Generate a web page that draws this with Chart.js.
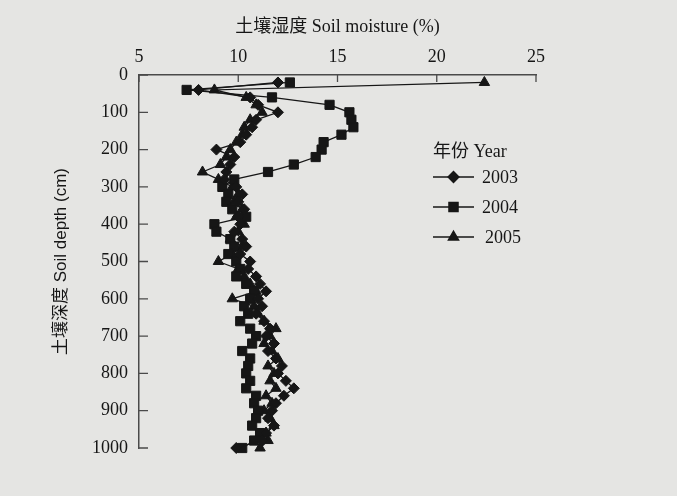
<!DOCTYPE html>
<html>
<head>
<meta charset="utf-8">
<script src="https://cdn.jsdelivr.net/npm/chart.js@4.4.1/dist/chart.umd.min.js"></script>
<style>
  body { margin: 0; background: #e5e5e3; }
  #wrap { width: 677px; height: 496px; }
</style>
</head>
<body>
<div id="wrap"><canvas id="soil-chart" width="677" height="496"></canvas></div>
<script>
// profundidade (cm) de cada medida
const depths = [20, 40, 60, 80, 100, 120, 140, 160, 180, 200,
  220, 240, 260, 280, 300, 320, 340, 360, 380, 400,
  420, 440, 460, 480, 500, 520, 540, 560, 580, 600,
  620, 640, 660, 680, 700, 720, 740, 760, 780, 800,
  820, 840, 860, 880, 900, 920, 940, 960, 980, 1000];

// umidade do solo (%) por ano
const moisture2003 = [12.0, 8.0, 10.6, 11.0, 12.0, 10.9, 10.7, 10.4, 10.1, 8.9,
  9.8, 9.6, 9.4, 9.3, 9.9, 10.2, 10.0, 10.3, 10.0, 10.1,
  9.8, 10.2, 10.4, 10.1, 10.6, 10.5, 10.9, 11.1, 11.4, 11.0,
  11.2, 10.9, 11.3, 11.6, 11.4, 11.8, 11.5, 11.9, 12.2, 12.0,
  12.4, 12.8, 12.3, 11.9, 11.7, 11.5, 11.8, 11.4, 11.2, 9.9];
const moisture2004 = [12.6, 7.4, 11.7, 14.6, 15.6, 15.7, 15.8, 15.2, 14.3, 14.2,
  13.9, 12.8, 11.5, 9.8, 9.2, 9.5, 9.4, 9.7, 10.4, 8.8,
  8.9, 9.6, 9.8, 9.5, 9.9, 10.1, 9.9, 10.4, 10.8, 10.6,
  10.3, 10.5, 10.1, 10.6, 10.9, 10.7, 10.2, 10.6, 10.5, 10.4,
  10.6, 10.4, 10.9, 10.8, 11.0, 10.9, 10.7, 11.1, 10.8, 10.2];
const moisture2005 = [22.4, 8.8, 10.4, 10.9, 11.2, 10.6, 10.3, 10.2, 9.9, 9.6,
  9.4, 9.1, 8.2, 9.0, 9.7, 10.0, 9.8, 10.2, 9.9, 10.3,
  10.0, 9.6, 10.2, 9.7, 9.0, 10.0, 10.3, 10.6, 10.9, 9.7,
  10.8, 11.0, 11.3, 11.9, 11.6, 11.3, 11.7, 12.0, 11.5, 11.8,
  11.6, 11.9, 11.4, 11.7, 11.3, 11.6, 11.8, 11.4, 11.5, 11.1];

const years = ["2003", "2004", "2005"];
const xTicks = [5, 10, 15, 20, 25];
const yTicks = [0, 100, 200, 300, 400, 500, 600, 700, 800, 900, 1000];

const ink = "#161616";
const axisColor = "#4a4a4a";
const serif = "'Liberation Serif', 'Noto Sans CJK SC', serif";
const sans = "'Liberation Sans', 'Noto Sans CJK SC', sans-serif";

function profile(values) {
  return depths.map((d, i) => ({ x: values[i], y: d }));
}

// fundo cinza do papel escaneado
const paper = {
  id: "paper",
  beforeDraw(chart) {
    const ctx = chart.ctx;
    ctx.save();
    ctx.fillStyle = "#e5e5e3";
    ctx.fillRect(0, 0, chart.width, chart.height);
    ctx.restore();
  }
};

// marcas dos eixos para dentro
const innerTicks = {
  id: "innerTicks",
  afterDraw(chart) {
    const { ctx, chartArea, scales } = chart;
    ctx.save();
    ctx.strokeStyle = axisColor;
    ctx.lineWidth = 1.3;
    ctx.beginPath();
    xTicks.forEach(v => {
      const px = scales.x.getPixelForValue(v);
      ctx.moveTo(px, chartArea.top);
      ctx.lineTo(px, chartArea.top + 7);
    });
    yTicks.forEach(v => {
      const py = scales.y.getPixelForValue(v);
      ctx.moveTo(chartArea.left, py);
      ctx.lineTo(chartArea.left + 9, py);
    });
    ctx.stroke();
    ctx.restore();
  }
};

// legenda dentro da area do grafico
const yearLegend = {
  id: "yearLegend",
  afterDraw(chart) {
    const ctx = chart.ctx;
    ctx.save();
    ctx.fillStyle = ink;
    ctx.textBaseline = "middle";
    ctx.textAlign = "left";
    ctx.font = "18px " + serif;
    ctx.fillText("年份 Year", 433, 152);
    chart.data.datasets.forEach((ds, i) => {
      const y = 177 + i * 30;
      ctx.strokeStyle = ink;
      ctx.lineWidth = 1.3;
      ctx.beginPath();
      ctx.moveTo(433, y);
      ctx.lineTo(474, y);
      ctx.stroke();
      ctx.fillStyle = ink;
      Chart.helpers.drawPoint(ctx, {
        pointStyle: ds.pointStyle, radius: ds.pointRadius, rotation: 0, borderWidth: 1
      }, 453.5, y);
      ctx.fillText(ds.label, 482 + (i === 2 ? 3 : 0), y + 1);
    });
    ctx.restore();
  }
};

const styles = [
  { pointStyle: "rectRot", pointRadius: 5.5 },
  { pointStyle: "rect", pointRadius: 6.5 },
  { pointStyle: "triangle", pointRadius: 6 }
];
const series = [moisture2003, moisture2004, moisture2005];

new Chart(document.getElementById("soil-chart"), {
  type: "line",
  data: {
    datasets: series.map((values, i) => ({
      label: years[i],
      data: profile(values),
      borderColor: ink,
      backgroundColor: ink,
      pointBackgroundColor: ink,
      pointBorderColor: ink,
      pointBorderWidth: 1,
      borderWidth: 1.3,
      tension: 0,
      fill: false,
      clip: false,
      pointStyle: styles[i].pointStyle,
      pointRadius: styles[i].pointRadius
    }))
  },
  options: {
    responsive: false,
    animation: false,
    layout: { padding: { top: 0, left: 0, right: 141, bottom: 48 } },
    plugins: {
      legend: { display: false },
      tooltip: { enabled: false }
    },
    scales: {
      x: {
        type: "linear",
        position: "top",
        min: 5,
        max: 25,
        afterBuildTicks: scale => { scale.ticks = xTicks.map(v => ({ value: v })); },
        afterFit: scale => { scale.height = 75; },
        grid: { display: false, drawTicks: false },
        border: { display: true, color: axisColor, width: 1.5 },
        ticks: { color: ink, padding: 7, font: { family: serif, size: 18 }, callback: v => String(v) },
        title: {
          display: true,
          text: "土壤湿度 Soil moisture (%)",
          color: ink,
          padding: { top: 16, bottom: 0 },
          font: { family: serif, size: 18 }
        }
      },
      y: {
        type: "linear",
        reverse: true,
        min: 0,
        max: 1000,
        afterBuildTicks: scale => { scale.ticks = yTicks.map(v => ({ value: v })); },
        afterFit: scale => { scale.width = 139; },
        grid: { display: false, drawTicks: false },
        border: { display: true, color: axisColor, width: 1.5 },
        ticks: { color: ink, padding: 11, font: { family: serif, size: 18 }, callback: v => String(v) },
        title: {
          display: true,
          text: "土壤深度 Soil depth (cm)",
          color: ink,
          padding: { top: 51, bottom: 0 },
          font: { family: sans, size: 17 }
        }
      }
    }
  },
  plugins: [paper, innerTicks, yearLegend]
});
</script>
</body>
</html>
